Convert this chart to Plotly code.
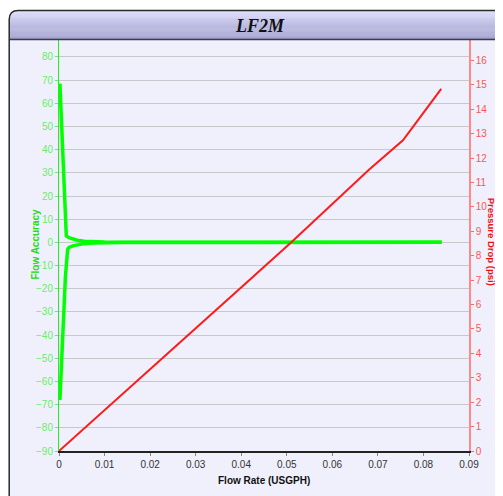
import plotly.graph_objects as go

# ---- data ----
acc_hi_x = [0.0002, 0.0008, 0.0013, 0.0016, 0.0022, 0.003, 0.004, 0.0055, 0.0075, 0.010, 0.014, 0.084]
acc_hi_y = [68.5, 40.0, 15.0, 2.8, 2.0, 1.4, 0.9, 0.5, 0.25, 0.12, 0.05, 0.0]
acc_lo_x = [0.0002, 0.0007, 0.0014, 0.0019, 0.0022, 0.003, 0.004, 0.0055, 0.0075, 0.010, 0.014, 0.084]
acc_lo_y = [-68.0, -45.0, -15.0, -3.0, -2.2, -1.5, -1.0, -0.55, -0.25, -0.12, -0.05, 0.0]
dp_x = [0.0, 0.0255, 0.051, 0.0681, 0.0755, 0.0797, 0.0839]
dp_y = [0.0, 4.28, 8.55, 11.53, 12.73, 13.78, 14.84]

title = "LF2M"
x_title = "Flow Rate (USGPH)"
y1_title = "Flow Accuracy"
y2_title = "Pressure Drop (psi)"

OFF = 8.0  # page body margin offset
W, H = 503, 496
L, R, T, B = 59.3 - OFF, 469.3 - OFF, 40.0 - OFF, 451.3 - OFF

def px(x):
    return (x - OFF - L) / (R - L)

def py(y):
    return (B - (y - OFF)) / (B - T)

GREEN = "#00ff00"
RED = "#ff1a1a"

fig = go.Figure()
fig.add_trace(go.Scatter(x=acc_hi_x, y=acc_hi_y, mode="lines", line=dict(color=GREEN, width=3.5),
                         yaxis="y", showlegend=False, hoverinfo="skip"))
fig.add_trace(go.Scatter(x=acc_lo_x, y=acc_lo_y, mode="lines", line=dict(color=GREEN, width=3.5),
                         yaxis="y", showlegend=False, hoverinfo="skip"))
fig.add_trace(go.Scatter(x=dp_x, y=dp_y, mode="lines", line=dict(color=RED, width=2),
                         yaxis="y2", showlegend=False, hoverinfo="skip"))

shapes = []
r = 9
x0, y0 = 9.5, 10.5
x1, y1 = 530, 530
path = (f"M {px(x0)} {py(y1)} L {px(x0)} {py(y0 + r)} "
        f"Q {px(x0)} {py(y0)} {px(x0 + r)} {py(y0)} L {px(x1)} {py(y0)} "
        f"L {px(x1)} {py(y1)} Z")
shapes.append(dict(type="path", xref="paper", yref="paper", path=path,
                   fillcolor="#f0f0fd", line=dict(width=0), layer="below"))
top_c = (222, 222, 252)
bot_c = (160, 160, 205)
n = 30
hdr_top, hdr_bot = 10.5, 39.0
for i in range(n):
    t = i / (n - 1)
    c = tuple(int(top_c[k] + (bot_c[k] - top_c[k]) * t) for k in range(3))
    ya = hdr_top + (hdr_bot - hdr_top) * i / n
    yb = hdr_top + (hdr_bot - hdr_top) * (i + 1) / n
    xa = x0
    if ya < y0 + r:
        d = y0 + r - ya
        xa = x0 + r - (r * r - d * d) ** 0.5 if d <= r else x0
    shapes.append(dict(type="rect", xref="paper", yref="paper",
                       x0=px(xa + 0.5), x1=px(x1), y0=py(yb + 0.3), y1=py(ya),
                       fillcolor="rgb(%d,%d,%d)" % c, line=dict(width=0), layer="below"))
shapes.append(dict(type="line", xref="paper", yref="paper", x0=px(x0), x1=px(x1),
                   y0=py(39.5), y1=py(39.5), line=dict(color="#3a3a50", width=1.5)))
shapes.append(dict(type="path", xref="paper", yref="paper",
                   path=(f"M {px(x0)} {py(y1)} L {px(x0)} {py(y0 + r)} "
                         f"Q {px(x0)} {py(y0)} {px(x0 + r)} {py(y0)} L {px(x1)} {py(y0)}"),
                   line=dict(color="#2a2a2a", width=1.5)))

NARROW = "Liberation Sans Narrow, Arial Narrow, sans-serif"
BOLD = "Liberation Sans Narrow, Liberation Sans, Arial, sans-serif"
fig.update_layout(
    width=W, height=H,
    margin=dict(l=L, r=W - R, t=T, b=H - B, pad=0, autoexpand=False),
    paper_bgcolor="white",
    plot_bgcolor="#f0f0fd",
    shapes=shapes,
    xaxis=dict(range=[0, 0.09], dtick=0.01, tick0=0, showgrid=False, zeroline=False, automargin=False,
               showline=True, linecolor="#222222", linewidth=1.5,
               ticks="outside", ticklen=3, tickcolor="#888888",
               tickfont=dict(family=NARROW, size=10, color="#333333")),
    yaxis=dict(range=[-90, 87.3], dtick=10, tick0=0, showgrid=True, gridcolor="#c8c8cc", gridwidth=1,
               zeroline=False, showline=True, linecolor="#22ee22", linewidth=1, automargin=False,
               ticks="outside", ticklen=3, tickcolor="#66ee66",
               tickfont=dict(family=NARROW, size=10, color="#66ee66")),
    yaxis2=dict(range=[0, 16.84], dtick=1, tick0=0, overlaying="y", side="right", showgrid=False,
                zeroline=False, showline=True, linecolor="#ff8888", linewidth=1.5, automargin=False,
                ticks="outside", ticklen=3, tickcolor="#ff6666",
                tickfont=dict(family=NARROW, size=10, color="#ff5555")),
    annotations=[
        dict(text="<b><i>" + title + "</i></b>", xref="paper", yref="paper",
             x=px(260), y=py(26), xanchor="center", yanchor="middle", showarrow=False,
             font=dict(family="Liberation Serif, Times New Roman, serif", size=18, color="#111111")),
        dict(text="<b>" + x_title + "</b>", xref="paper", yref="paper",
             x=px(264), y=py(481), xanchor="center", yanchor="middle", showarrow=False,
             font=dict(family=BOLD, size=10, color="#111111")),
        dict(text="<b>" + y1_title + "</b>", xref="paper", yref="paper", textangle=-90,
             x=px(36), y=py(244), xanchor="center", yanchor="middle", showarrow=False,
             font=dict(family=BOLD, size=10, color="#22dd22")),
        dict(text="<b>" + y2_title + "</b>", xref="paper", yref="paper", textangle=90,
             x=px(491.5), y=py(242), xanchor="center", yanchor="middle", showarrow=False,
             font=dict(family=BOLD, size=9.5, color="#ee1111")),
    ],
)

fig.write_html("out.html")
